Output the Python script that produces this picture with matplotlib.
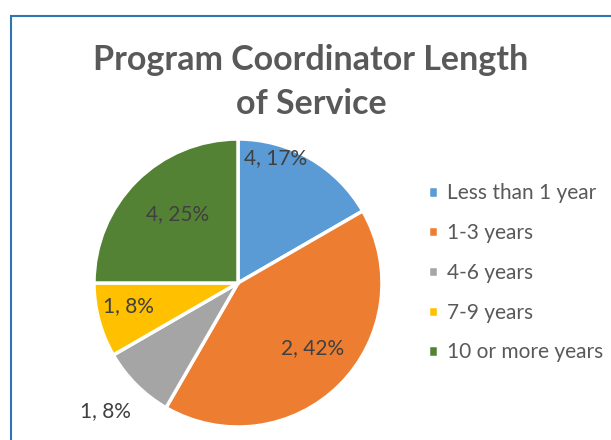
import matplotlib
matplotlib.use("Agg")
import matplotlib.pyplot as plt
from matplotlib.patches import Rectangle

# data
categories = ["Less than 1 year", "1-3 years", "4-6 years", "7-9 years", "10 or more years"]
counts = [2, 5, 1, 1, 3]
label_texts = ["4, 17%", "2, 42%", "1, 8%", "1, 8%", "4, 25%"]
colors = ["#5B9BD5", "#ED7D31", "#A5A5A5", "#FFC000", "#548235"]

# label placement (in pie radius units, relative to center)
label_xy = [(0.26, 0.87), (0.52, -0.45), (-0.92, -0.89), (-0.76, -0.16), (-0.42, 0.48)]

plt.rcParams['font.family'] = ['Lato', 'DejaVu Sans']

fig = plt.figure(figsize=(6.11, 4.4), dpi=100)

# chart border
fig.patches.append(Rectangle((11 / 611, -0.05), 1.0, 1 - 16 / 440 + 0.05, transform=fig.transFigure,
                             fill=False, edgecolor="#2E75B6", linewidth=1.5))

R = 144
cx, cy = 238, 440 - 283
ax = fig.add_axes([(cx - R) / 611, (cy - R) / 440, 2 * R / 611, 2 * R / 440])
wedges, _ = ax.pie(counts, colors=colors, startangle=90, counterclock=False,
                   wedgeprops=dict(edgecolor="white", linewidth=2.5))
ax.set_xlim(-1, 1)
ax.set_ylim(-1, 1)
ax.set_aspect("equal")
ax.axis("off")

for txt, (x, y) in zip(label_texts, label_xy):
    ax.text(x, y, txt, ha="center", va="center", fontsize=15, color="#404040")

fig.text(311 / 611, 1 - 60 / 440, "Program Coordinator Length", ha="center", va="center",
         fontsize=24.5, fontweight="bold", color="#595959")
fig.text(311 / 611, 1 - 104 / 440, "of Service", ha="center", va="center",
         fontsize=24.5, fontweight="bold", color="#595959")

fig.legend(wedges, categories, loc="upper left", bbox_to_anchor=(420 / 611, 1 - 175 / 440),
           frameon=False, fontsize=15, labelcolor="#595959", handlelength=0.45, handleheight=0.45,
           handletextpad=0.45, labelspacing=0.95, borderaxespad=0)

fig.savefig("out.png", dpi=100)
